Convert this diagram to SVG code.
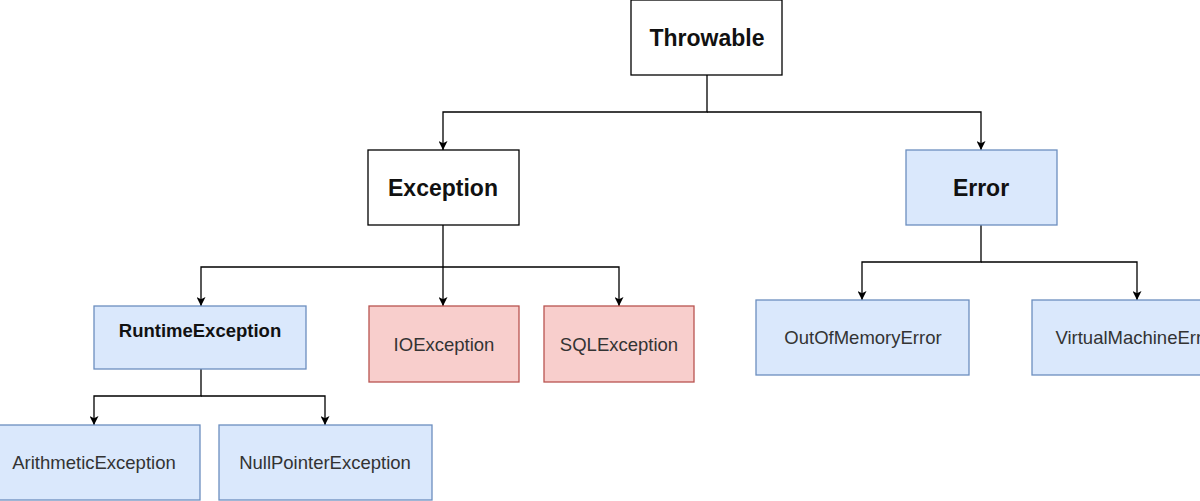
<svg xmlns="http://www.w3.org/2000/svg" width="1200" height="501" viewBox="0 0 1200 501">
<style>
.plain{fill:#ffffff;stroke:#000000;stroke-width:1.3}
.blue{fill:#dae8fc;stroke:#6c8ebf;stroke-width:1.3}
.red{fill:#f8cecc;stroke:#b85450;stroke-width:1.3}
.b{font-family:"Liberation Sans",Arial,sans-serif;font-weight:bold;fill:#111;text-anchor:middle}
.t{font-family:"Liberation Sans",Arial,sans-serif;font-size:18.5px;fill:#333;text-anchor:middle}
.c{fill:none;stroke:#000;stroke-width:1.3}
</style>
<defs>
<marker id="arr" viewBox="0 0 10 10" refX="10" refY="5" markerWidth="9" markerHeight="9" markerUnits="userSpaceOnUse" orient="auto">
<path d="M0,0 L10,5 L0,10 L2.5,5 Z" fill="#000"/>
</marker>
</defs>
<rect width="1200" height="501" fill="#ffffff"/>
<g id="connectors">
<path class="c" d="M707,75 V112 H443 V150" marker-end="url(#arr)"/>
<path class="c" d="M707,112 H981 V150" marker-end="url(#arr)"/>
<path class="c" d="M443,225 V306" marker-end="url(#arr)"/>
<path class="c" d="M443,267 H201 V306" marker-end="url(#arr)"/>
<path class="c" d="M443,267 H619 V306" marker-end="url(#arr)"/>
<path class="c" d="M981,225 V262 H862 V300" marker-end="url(#arr)"/>
<path class="c" d="M981,262 H1137 V300" marker-end="url(#arr)"/>
<path class="c" d="M201,369 V396 H94 V425" marker-end="url(#arr)"/>
<path class="c" d="M201,396 H325 V425" marker-end="url(#arr)"/>
</g>
<g id="throwable"><rect class="plain" x="631" y="0" width="151" height="75"/><text class="b" x="707" y="46" font-size="23">Throwable</text></g>
<g id="exception"><rect class="plain" x="368" y="150" width="151" height="75"/><text class="b" x="443" y="196" font-size="23">Exception</text></g>
<g id="error"><rect class="blue" x="906" y="150" width="151" height="75"/><text class="b" x="981" y="196" font-size="23">Error</text></g>
<g id="runtime"><rect class="blue" x="94" y="306" width="212" height="63"/><text class="b" x="200" y="337" font-size="18.5">RuntimeException</text></g>
<g id="ioexception"><rect class="red" x="369" y="306" width="150" height="76"/><text class="t" x="444" y="351">IOException</text></g>
<g id="sqlexception"><rect class="red" x="544" y="306" width="150" height="76"/><text class="t" x="619" y="351">SQLException</text></g>
<g id="oom"><rect class="blue" x="756" y="300" width="213" height="75"/><text class="t" x="863" y="344">OutOfMemoryError</text></g>
<g id="vme"><rect class="blue" x="1032" y="300" width="212" height="75"/><text class="t" x="1137" y="344">VirtualMachineError</text></g>
<g id="arith"><rect class="blue" x="-12" y="425" width="212" height="75"/><text class="t" x="94" y="469">ArithmeticException</text></g>
<g id="npe"><rect class="blue" x="219" y="425" width="213" height="75"/><text class="t" x="325" y="469">NullPointerException</text></g>
</svg>
